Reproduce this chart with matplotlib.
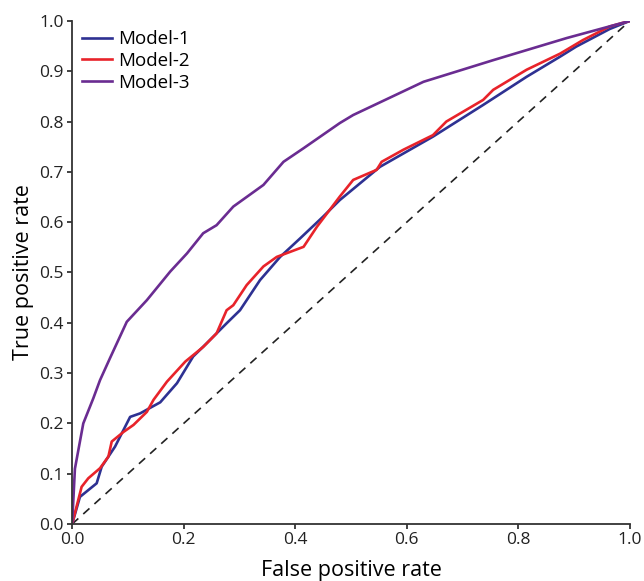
import matplotlib
matplotlib.use('Agg')
import matplotlib.pyplot as plt

# ROC curves
fpr_m1 = [0.0, 0.014, 0.044, 0.053, 0.077, 0.104, 0.122, 0.158, 0.188, 0.217, 0.241,
          0.277, 0.301, 0.337, 0.373, 0.409, 0.450, 0.480, 0.552, 0.647, 0.737,
          0.815, 0.875, 0.904, 0.964, 1.0]
tpr_m1 = [0.0, 0.054, 0.081, 0.114, 0.154, 0.213, 0.220, 0.242, 0.280, 0.333, 0.359,
          0.399, 0.425, 0.485, 0.531, 0.568, 0.611, 0.644, 0.710, 0.770, 0.833,
          0.889, 0.929, 0.949, 0.984, 1.0]

fpr_m2 = [0.0, 0.017, 0.029, 0.050, 0.065, 0.071, 0.092, 0.110, 0.134, 0.146, 0.170,
          0.203, 0.235, 0.259, 0.277, 0.289, 0.313, 0.343, 0.367, 0.391, 0.415,
          0.439, 0.480, 0.504, 0.546, 0.555, 0.594, 0.647, 0.671, 0.737, 0.755,
          0.815, 0.875, 0.916, 0.964, 1.0]
tpr_m2 = [0.0, 0.074, 0.091, 0.111, 0.134, 0.164, 0.183, 0.197, 0.223, 0.247, 0.283,
          0.323, 0.352, 0.379, 0.425, 0.435, 0.475, 0.512, 0.531, 0.541, 0.551,
          0.591, 0.651, 0.684, 0.704, 0.720, 0.744, 0.773, 0.800, 0.843, 0.863,
          0.903, 0.935, 0.962, 0.989, 1.0]

fpr_m3 = [0.0, 0.005, 0.020, 0.038, 0.050, 0.068, 0.098, 0.134, 0.176, 0.206, 0.235,
          0.259, 0.289, 0.343, 0.379, 0.415, 0.480, 0.504, 0.630, 0.755, 0.887, 1.0]
tpr_m3 = [0.0, 0.110, 0.200, 0.250, 0.286, 0.330, 0.402, 0.445, 0.502, 0.538, 0.578,
          0.594, 0.631, 0.674, 0.720, 0.747, 0.797, 0.813, 0.879, 0.922, 0.966, 1.0]

ticks = [0.0, 0.2, 0.4, 0.6, 0.8, 1.0]
yticks = [i / 10 for i in range(11)]

plt.rcParams['font.family'] = ['Open Sans', 'DejaVu Sans']

fig = plt.figure(figsize=(6.44, 5.81), dpi=100)
ax = fig.add_axes([0.112, 0.098, 0.866, 0.866])

ax.plot([0, 1], [0, 1], '--', color='#222222', lw=1.2, dashes=(5, 4))
ax.plot(fpr_m1, tpr_m1, color='#2e3192', lw=1.9, label='Model-1')
ax.plot(fpr_m2, tpr_m2, color='#e8232a', lw=1.9, label='Model-2')
ax.plot(fpr_m3, tpr_m3, color='#6a2c91', lw=1.9, label='Model-3')

ax.set_xlim(0, 1)
ax.set_ylim(0, 1)
ax.set_xticks(ticks)
ax.set_xticklabels(['%.1f' % t for t in ticks])
ax.set_yticks(yticks)
ax.set_yticklabels(['%.1f' % t for t in yticks])
ax.tick_params(labelsize=12.5, length=3.5, width=1.2, direction='out', colors='#222222', pad=2.5)
for s in ['top', 'right']:
    ax.spines[s].set_visible(False)
for s in ['left', 'bottom']:
    ax.spines[s].set_linewidth(1.3)
    ax.spines[s].set_color('#333333')

ax.set_xlabel('False positive rate', fontsize=15.5, labelpad=8)
ax.set_ylabel('True positive rate', fontsize=15.5, labelpad=4)

leg = ax.legend(loc='upper left', frameon=False, fontsize=13.5, handlelength=1.6,
                handletextpad=0.35, labelspacing=0.2, borderaxespad=0.1,
                bbox_to_anchor=(0.0, 1.0))

fig.savefig('out.png', dpi=100)
